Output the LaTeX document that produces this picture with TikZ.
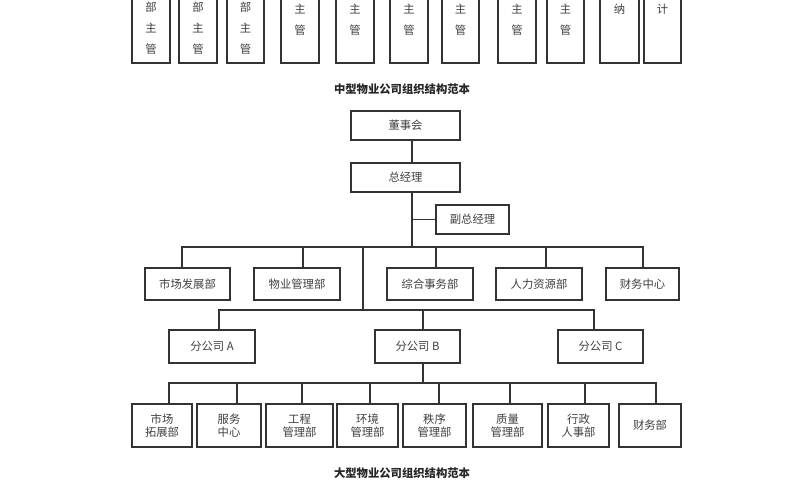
\documentclass[tikz,border=0pt]{standalone}
\usepackage{fontspec}
\setmainfont{Noto Sans CJK SC}
\begin{document}
\begin{tikzpicture}[x=0.75pt, y=-0.75pt, line width=1pt]
  \tikzset{
    box/.style={draw=black!80, fill=white, inner sep=0pt, font=\fontsize{8.5}{10}\selectfont, text=black!75, align=center},
    wire/.style={draw=black!80},
    title/.style={font=\bfseries\fontsize{8.5}{10}\selectfont, text=black!85}
  }
  \useasboundingbox (0,0) rectangle (800,500);

  % Oberer Teil (abgeschnitten)
  \foreach \xa/\xb/\txt in {132/170/{部,主,管}, 179/217/{部,主,管}, 227/264/{部,主,管}}{
    \draw[wire] (\xa,-5) -- (\xa,63) -- (\xb,63) -- (\xb,-5);
    \foreach \c [count=\i] in \txt
      \node[font=\fontsize{8.5}{10}\selectfont, text=black!75] at ({(\xa+\xb)/2}, {-14+21*\i}) {\c};
  }
  \foreach \xa/\xb in {281/319, 336/374, 390/428, 442/479, 498/536, 547/584}{
    \draw[wire] (\xa,-5) -- (\xa,63) -- (\xb,63) -- (\xb,-5);
    \node[font=\fontsize{8.5}{10}\selectfont, text=black!75] at ({(\xa+\xb)/2}, 9) {主};
    \node[font=\fontsize{8.5}{10}\selectfont, text=black!75] at ({(\xa+\xb)/2}, 30) {管};
  }
  \foreach \xa/\xb/\c in {600/639/纳, 644/681/计}{
    \draw[wire] (\xa,-5) -- (\xa,63) -- (\xb,63) -- (\xb,-5);
    \node[font=\fontsize{8.5}{10}\selectfont, text=black!75] at ({(\xa+\xb)/2}, 9) {\c};
  }
  \node[title] (tmid) at (402,89) {中型物业公司组织结构范本};

  % Leitung
  \node[box, minimum width=81.75pt, minimum height=21.75pt] (dsh) at (405.5,125.5) {董事会};
  \node[box, minimum width=81.75pt, minimum height=21.75pt] (zjl) at (405.5,177.5) {总经理};
  \node[box, minimum width=54.75pt, minimum height=21.75pt] (fzjl) at (472.5,219.5) {副总经理};
  \draw[wire] (412,140) -- (412,163);
  \coordinate (trunk) at (412,247);
  \draw[wire] (412,192) -- (trunk);
  \draw[wire] (412,219.5) -- (fzjl.west);

  % Abteilungen
  \node[box, minimum width=63.75pt, minimum height=24pt] (scfz) at (187.5,284) {市场发展部};
  \node[box, minimum width=64.5pt, minimum height=24pt] (wygl) at (297,284) {物业管理部};
  \node[box, minimum width=64.5pt, minimum height=24pt] (zhsw) at (430,284) {综合事务部};
  \node[box, minimum width=64.5pt, minimum height=24pt] (rlzy) at (539,284) {人力资源部};
  \node[box, minimum width=54.75pt, minimum height=24pt] (cwzx) at (642.5,284) {财务中心};
  \draw[wire] (182,268) -- (182,247) -- (643,247) -- (643,268);
  \foreach \x in {303, 436, 546}
    \draw[wire] (\x,247) -- (\x,268);

  % Filialen
  \node[box, minimum width=64.5pt, minimum height=24.75pt] (fa) at (212,346.5) {分公司 A};
  \node[box, minimum width=63.75pt, minimum height=24.75pt] (fb) at (417.5,346.5) {分公司 B};
  \node[box, minimum width=63.75pt, minimum height=24.75pt] (fc) at (600.5,346.5) {分公司 C};
  \draw[wire] (363,247) -- (363,310);
  \draw[wire] (219,330) -- (219,310) -- (594,310) -- (594,330);
  \draw[wire] (423,310) -- (423,330);

  % Abteilungen der Filiale
  \draw[wire] (423,363) -- (423,383);
  \draw[wire] (169,404) -- (169,383) -- (656,383) -- (656,404);
  \foreach \xa/\xb/\xd/\txt/\nm in {132/192/169/{市场\\拓展部}/b1, 197/261/237/{服务\\中心}/b2,
      266/333/302/{工程\\管理部}/b3, 337/398/370/{环境\\管理部}/b4, 403/466/439/{秩序\\管理部}/b5,
      473/542/510/{质量\\管理部}/b6, 548/609/585/{行政\\人事部}/b7, 619/681/656/{财务部}/b8}{
    \node[box, minimum width={(\xb-\xa)*0.75pt}, minimum height=32.25pt] (\nm) at ({(\xa+\xb)/2},425.5) {\txt};
    \draw[wire] (\xd,383) -- (\xd,404);
  }
  \node[title] (tbig) at (402,473) {大型物业公司组织结构范本};
\end{tikzpicture}
\end{document}
